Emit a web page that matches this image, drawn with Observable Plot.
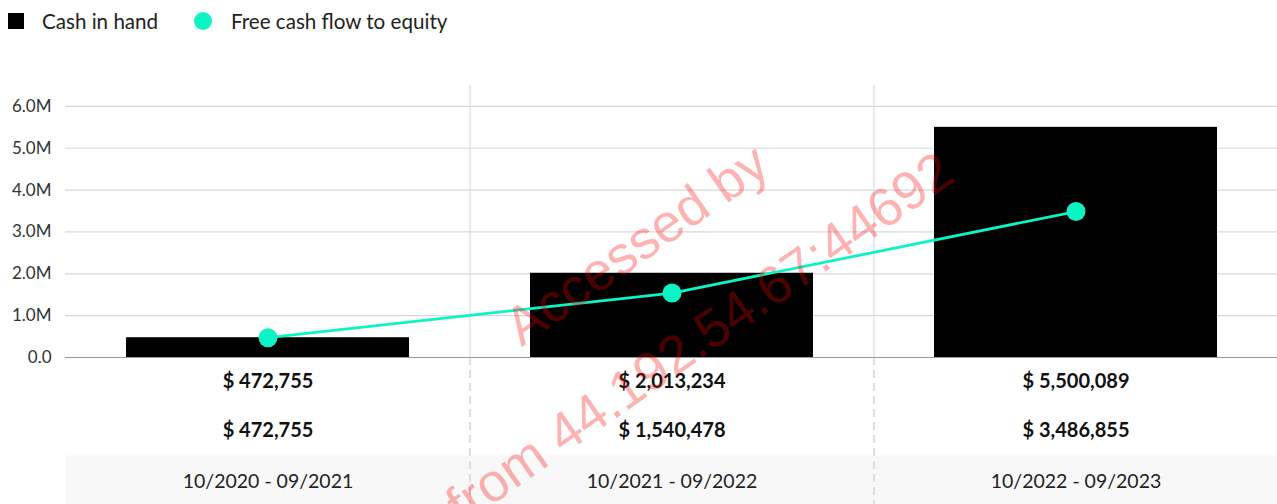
<!DOCTYPE html>
<html>
<head>
<meta charset="utf-8">
<script src="https://cdn.jsdelivr.net/npm/d3@7"></script>
<script src="https://cdn.jsdelivr.net/npm/@observablehq/plot@0.6"></script>
<style>
  body { margin: 0; background: #fff; font-family: Lato, sans-serif; width: 1277px; height: 504px; overflow: hidden; position: relative; }
  #legend { height: 45px; position: relative; }
  .item { position: absolute; top: 0; height: 42px; display: flex; align-items: center; font-size: 20.6px; color: #222; white-space: nowrap; }
  .sq { width: 16px; height: 16px; background: #000; margin-right: 18px; }
  .ci { width: 18px; height: 18px; border-radius: 50%; background: #0cf3c4; margin-right: 19px; }
  #chart svg { display: block; }
  .wm { position: absolute; font-family: "Liberation Sans", Arial, sans-serif; font-size: 54px; color: rgba(255,0,0,0.3); white-space: nowrap; transform: translate(-50%,-50%) rotate(-35deg); pointer-events: none; line-height: 1; }
</style>
</head>
<body>
<div id="legend">
  <div class="item" style="left:8px"><div class="sq"></div><span>Cash in hand</span></div>
  <div class="item" style="left:194px"><div class="ci"></div><span>Free cash flow to equity</span></div>
</div>
<div id="chart"></div>
<div class="wm" style="left:636px;top:244px">Accessed by</div>
<div class="wm" style="left:699px;top:337px">from 44.192.54.67:44692</div>
<script>
const periods = ["10/2020 - 09/2021", "10/2021 - 09/2022", "10/2022 - 09/2023"];
const cashInHand = [472755, 2013234, 5500089];
const freeCashFlowToEquity = [472755, 1540478, 3486855];
const yTicks = [0, 1e6, 2e6, 3e6, 4e6, 5e6, 6e6];

const rows = periods.map((p, i) => ({ period: p, cash: cashInHand[i], fcfe: freeCashFlowToEquity[i] }));

const W = 1277, H = 459, mT = 40, mB = 147, mL = 65, mR = 0;
const step = (W - mL - mR) / periods.length;
const frameH = H - mT - mB;
const fmt = d3.format(",");
const teal = "#0cf3c4";

const plot = Plot.plot({
  width: W, height: H,
  marginTop: mT, marginBottom: mB, marginLeft: mL, marginRight: mR,
  style: { fontFamily: "Lato, sans-serif", fontSize: "17px", background: "transparent", overflow: "visible", color: "#333" },
  x: { domain: periods, paddingInner: 0.3, paddingOuter: 0.15, axis: null },
  y: { domain: [0, 6.5e6], ticks: yTicks, tickSize: 0, tickPadding: 14, label: null,
       tickFormat: d => d === 0 ? "0.0" : (d / 1e6).toFixed(1) + "M" },
  marks: [
    Plot.frame({ fill: "#f8f8f8", stroke: null, insetTop: frameH + 98, insetBottom: -mB }),
    Plot.ruleY(yTicks.filter(d => d > 0), { stroke: "#d8d8d8", strokeWidth: 1.2 }),
    Plot.ruleX(periods.slice(1), { stroke: "#dcdcdc", strokeWidth: 1.2, dx: -step / 2 }),
    Plot.ruleX(periods.slice(1), { y1: 0, y2: 0, insetBottom: -mB, stroke: "#d4d4d4", strokeWidth: 1.5, strokeDasharray: "8,5", dx: -step / 2 }),
    Plot.barY(rows, { x: "period", y: "cash", fill: "#000" }),
    Plot.ruleY([0], { stroke: "#999", strokeWidth: 1.2 }),
    Plot.line(rows, { x: "period", y: "fcfe", stroke: teal, strokeWidth: 2.8 }),
    Plot.dot(rows, { x: "period", y: "fcfe", r: 9.5, fill: teal, stroke: null }),
    Plot.text(rows, { x: "period", text: d => "$ " + fmt(d.cash), frameAnchor: "bottom", lineAnchor: "middle", dy: 24, fontSize: 20, fontWeight: 700, fill: "#111" }),
    Plot.text(rows, { x: "period", text: d => "$ " + fmt(d.fcfe), frameAnchor: "bottom", lineAnchor: "middle", dy: 73, fontSize: 20, fontWeight: 700, fill: "#111" }),
    Plot.text(rows, { x: "period", text: "period", frameAnchor: "bottom", lineAnchor: "middle", dy: 124, fontSize: 19.5, fill: "#222" })
  ]
});
document.getElementById("chart").appendChild(plot);
</script>
</body>
</html>
